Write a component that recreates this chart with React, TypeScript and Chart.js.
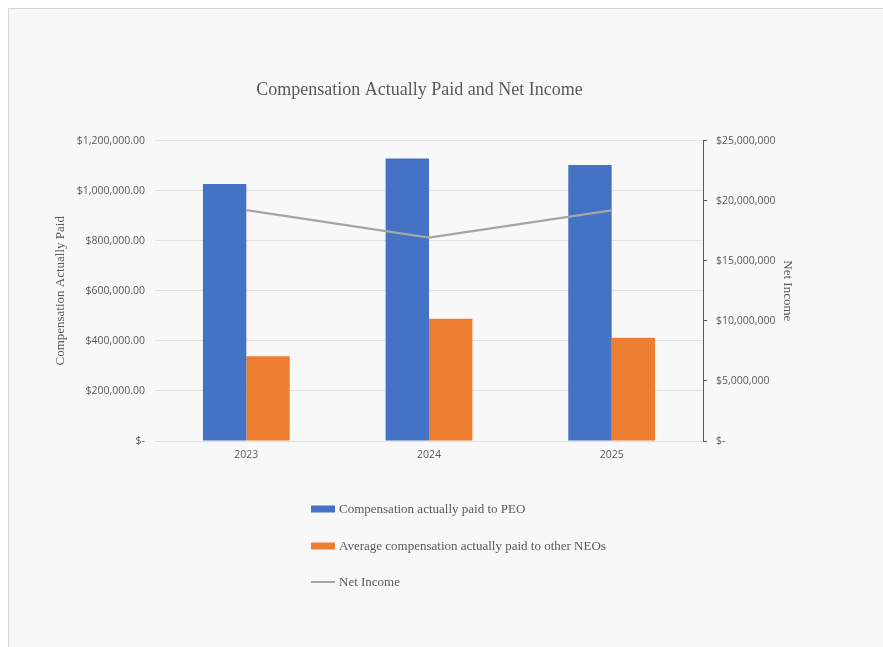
import React, { useEffect, useRef } from "react";
import { Chart, registerables } from "chart.js";

Chart.register(...registerables);

const chartTitle = "Compensation Actually Paid and Net Income";
const categories = ["2023", "2024", "2025"];
const peoLabel = "Compensation actually paid to PEO";
const neoLabel = "Average compensation actually paid to other NEOs";
const netLabel = "Net Income";
const peoValues = [1027000, 1128000, 1103000];
const neoValues = [339000, 488000, 412000];
const netIncomeValues = [19220000, 16920000, 19190000];
const leftAxisTitle = "Compensation Actually Paid";
const rightAxisTitle = "Net Income";

const BLUE = "#4472C4";
const ORANGE = "#ED7D31";
const GRAY = "#A5A5A5";
const TEXT = "#595959";
const SANS = '"Open Sans", "Noto Sans", sans-serif';
const SERIF = '"Liberation Serif", "Times New Roman", serif';

const fmtLeft = (v: number) =>
  v === 0
    ? "$-"
    : "$" + v.toLocaleString("en-US", { minimumFractionDigits: 2, maximumFractionDigits: 2 });
const fmtRight = (v: number) => (v === 0 ? "$-" : "$" + v.toLocaleString("en-US"));

const verticalLegend = {
  id: "verticalLegend",
  afterDraw(chart: any) {
    const ctx = chart.ctx;
    const x = 302;
    const rows = [500, 537, 573];
    ctx.save();
    ctx.font = `13px ${SERIF}`;
    ctx.textBaseline = "middle";
    ctx.textAlign = "left";
    chart.data.datasets.forEach((ds: any, i: number) => {
      const y = rows[i];
      if (ds.type === "line") {
        ctx.strokeStyle = ds.borderColor;
        ctx.lineWidth = 2;
        ctx.beginPath();
        ctx.moveTo(x, y);
        ctx.lineTo(x + 24, y);
        ctx.stroke();
      } else {
        ctx.fillStyle = ds.backgroundColor;
        ctx.fillRect(x, y - 3.5, 24, 7);
      }
      ctx.fillStyle = TEXT;
      ctx.fillText(ds.label, x + 28, y + 1);
    });
    ctx.restore();
  },
};

export default function App() {
  const ref = useRef<HTMLCanvasElement>(null);

  useEffect(() => {
    if (!ref.current) return;
    const chart = new Chart(ref.current, {
      type: "bar",
      data: {
        labels: categories,
        datasets: [
          {
            type: "bar",
            label: peoLabel,
            data: peoValues,
            backgroundColor: BLUE,
            yAxisID: "y",
            order: 1,
            barPercentage: 1,
            categoryPercentage: 0.475,
          },
          {
            type: "bar",
            label: neoLabel,
            data: neoValues,
            backgroundColor: ORANGE,
            yAxisID: "y",
            order: 1,
            barPercentage: 1,
            categoryPercentage: 0.475,
          },
          {
            type: "line",
            label: netLabel,
            data: netIncomeValues,
            borderColor: GRAY,
            backgroundColor: GRAY,
            borderWidth: 2.25,
            pointRadius: 0,
            tension: 0,
            yAxisID: "y1",
            order: 0,
          },
        ] as any,
      },
      plugins: [verticalLegend],
      options: {
        responsive: false,
        animation: false,
        layout: { padding: { left: 35, right: 88, top: 70, bottom: 177.4 } },
        plugins: {
          legend: { display: false },
          tooltip: { enabled: false },
          title: {
            display: true,
            text: chartTitle,
            color: TEXT,
            font: { family: SERIF, size: 18, weight: "normal" },
            padding: { top: 0, bottom: 40 },
          },
        },
        scales: {
          x: {
            grid: { display: false, drawTicks: false },
            border: { display: false },
            ticks: { color: TEXT, font: { family: SANS, size: 10.5 }, padding: 8 },
          },
          y: {
            position: "left",
            min: 0,
            max: 1200000,
            afterFit: (s: any) => {
              s.width = 111;
            },
            ticks: {
              stepSize: 200000,
              color: TEXT,
              font: { family: SANS, size: 10.5 },
              padding: 10,
              callback: (v: any) => fmtLeft(Number(v)),
            },
            grid: { color: "#E3E3E3", lineWidth: 1, drawTicks: false },
            border: { display: false },
            title: {
              display: true,
              text: leftAxisTitle,
              color: TEXT,
              font: { family: SERIF, size: 13 },
              padding: { top: 9, bottom: 0 },
            },
          },
          y1: {
            position: "right",
            min: 0,
            max: 25000000,
            afterFit: (s: any) => {
              s.width = 92;
            },
            ticks: {
              stepSize: 5000000,
              color: TEXT,
              font: { family: SANS, size: 10.5 },
              padding: 9,
              callback: (v: any) => fmtRight(Number(v)),
            },
            grid: {
              drawOnChartArea: false,
              drawTicks: true,
              tickLength: 4,
              color: "#595959",
            },
            border: { display: true, color: "#595959", width: 1 },
            title: {
              display: true,
              text: rightAxisTitle,
              color: TEXT,
              font: { family: SERIF, size: 13 },
              padding: 0,
            },
          },
        },
      } as any,
    });
    return () => chart.destroy();
  }, []);

  return (
    <div
      style={{
        position: "fixed",
        left: 8,
        top: 8,
        width: 875,
        height: 639,
        boxSizing: "border-box",
        borderLeft: "1px solid #D9D9D9",
        borderTop: "1px solid #D9D9D9",
        background: "#F8F8F8",
      }}
    >
      <canvas ref={ref} width={874} height={638} style={{ display: "block" }} />
    </div>
  );
}
